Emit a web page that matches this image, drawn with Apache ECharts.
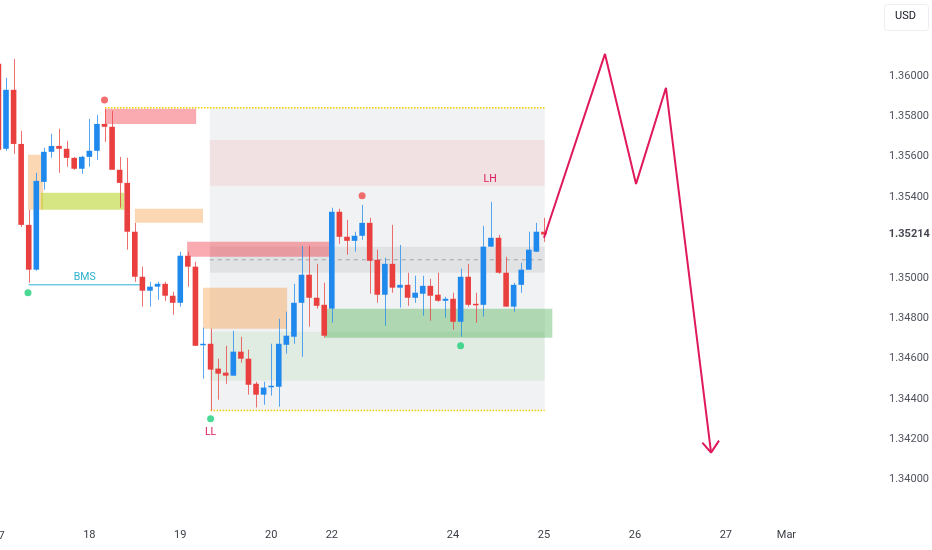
<!DOCTYPE html>
<html>
<head>
<meta charset="utf-8">
<script src="https://cdn.jsdelivr.net/npm/echarts@6/dist/echarts.min.js"></script>
<style>html,body{margin:0;padding:0;background:#fff;}#c{width:932px;height:550px;}</style>
</head>
<body>
<div id="c"></div>
<script>
// ---- data ----
const opens  = [1.36060,1.35639,1.35931,1.35663,1.35262,1.35040,1.35475,1.35624,1.35653,1.35639,1.35594,1.35540,1.35599,1.35629,1.35762,1.35748,1.35535,1.35470,1.35228,1.35005,1.34936,1.34956,1.34970,1.34911,1.34876,1.35109,1.35055,1.34668,1.34673,1.34550,1.34530,1.34515,1.34634,1.34599,1.34475,1.34421,1.34460,1.34460,1.34668,1.34708,1.34876,1.35015,1.34901,1.34866,1.34847,1.35327,1.35203,1.35183,1.35208,1.35272,1.35089,1.34916,1.35069,1.34951,1.34965,1.34901,1.34921,1.34960,1.34916,1.34886,1.34896,1.34782,1.35005,1.34871,1.34866,1.35154,1.35198,1.35025,1.34857,1.34965,1.35040,1.35129,1.35228];
const closes = [1.35634,1.35931,1.35663,1.35262,1.35040,1.35480,1.35624,1.35653,1.35639,1.35594,1.35540,1.35599,1.35629,1.35762,1.35748,1.35535,1.35470,1.35228,1.35005,1.34936,1.34956,1.34970,1.34911,1.34876,1.35109,1.35055,1.34663,1.34673,1.34545,1.34525,1.34515,1.34634,1.34599,1.34470,1.34421,1.34456,1.34465,1.34673,1.34713,1.34876,1.35015,1.34901,1.34861,1.34713,1.35327,1.35203,1.35183,1.35208,1.35272,1.35084,1.34916,1.35069,1.34951,1.34965,1.34901,1.34926,1.34960,1.34911,1.34886,1.34896,1.34782,1.35005,1.34866,1.34866,1.35154,1.35198,1.35025,1.34857,1.34965,1.35040,1.35139,1.35228,1.35214];
const lows   = [1.35614,1.35629,1.35614,1.35252,1.34975,1.35035,1.35436,1.35594,1.35520,1.35550,1.35535,1.35515,1.35550,1.35584,1.35673,1.35535,1.35347,1.35139,1.34980,1.34857,1.34857,1.34891,1.34886,1.34817,1.34857,1.34956,1.34663,1.34500,1.34342,1.34396,1.34475,1.34515,1.34579,1.34421,1.34357,1.34371,1.34416,1.34361,1.34624,1.34673,1.34609,1.34758,1.34847,1.34703,1.34777,1.35168,1.35114,1.35129,1.35188,1.34921,1.34876,1.34762,1.34926,1.34852,1.34861,1.34876,1.34812,1.34787,1.34881,1.34802,1.34743,1.34708,1.34857,1.34777,1.34807,1.35154,1.35020,1.34857,1.34832,1.34926,1.35040,1.35129,1.35178];
const highs  = [1.36089,1.35990,1.36084,1.35728,1.35337,1.35520,1.35644,1.35713,1.35738,1.35678,1.35599,1.35604,1.35787,1.35807,1.35837,1.35827,1.35599,1.35594,1.35272,1.35055,1.34980,1.34980,1.34980,1.34931,1.35129,1.35129,1.35079,1.34753,1.34748,1.34599,1.34663,1.34738,1.34708,1.34644,1.34485,1.34485,1.34673,1.34797,1.34832,1.34970,1.35158,1.35158,1.35069,1.34975,1.35347,1.35342,1.35287,1.35228,1.35361,1.35297,1.35139,1.35099,1.35262,1.35163,1.35025,1.35010,1.35010,1.34995,1.35025,1.34906,1.34926,1.35045,1.35069,1.34926,1.35257,1.35376,1.35213,1.35104,1.34975,1.35074,1.35228,1.35272,1.35297];

const dateTicks  = [0,12,24,36,44,60,72,84,96,104];
const dateLabels = ['17','18','19','20','22','24','25','26','27','Mar'];
const lastPrice = 1.35214;

// zones: [x1, y1, x2, y2] in candle index / price
const greyBox     = [[27.9,1.35842,72.1,1.34342]];
const lightPink   = [[27.9,1.35683,72.1,1.35456]];
const greyBand    = [[27.9,1.35154,72.1,1.35025]];
const lightGreen  = [[27.9,1.34733,72.1,1.34490]];
const strongPink  = [[14.07,1.35837,26.1,1.35762],[24.9,1.35178,43.8,1.35104]];
const orangeZones = [[27.0,1.34951,38.1,1.34748],[3.9,1.35609,5.9,1.35337],[18.0,1.35342,27.0,1.35272]];
const strongGreen = [[43.1,1.34847,73.1,1.34703]];
const limeZone    = [[5.6,1.35421,16.6,1.35337]];

// lines
const topDotted    = [[14.07,1.35842],[72.1,1.35842]];
const bottomDotted = [[28,1.34342],[72.1,1.34342]];
const midDashed    = [[27.9,1.35089],[72.1,1.35089]];
const bmsLine      = [[4.0,1.34965],[18.7,1.34965]];
const projection   = [[72.0,1.35198],[80.05,1.36109],[84.15,1.35465],[88.1,1.35941],[94.05,1.34134]];
const arrowHead    = [[92.9,1.34183],[94.05,1.34134],[95.1,1.34193]];

// markers
const redDots   = [[14,1.35881],[48,1.35406]];
const greenDots = [[3.9,1.34926],[28,1.34302],[61,1.34663]];
const texts     = [['BMS',11.4,1.35000],['LL',28,1.34233],['LH',64.9,1.35485]];

// ---- chart ----
const UP = '#2089ee', DOWN = '#ea3f3f';
const candleData = opens.map((o,i)=>[i,o,closes[i],lows[i],highs[i]]);

function zoneSeries(rects, color){
  return {
    type:'custom', z:1, silent:true, clip:true,
    data: rects,
    renderItem:(p,api)=>{
      const a = api.coord([api.value(0),api.value(1)]);
      const b = api.coord([api.value(2),api.value(3)]);
      return {type:'rect', shape:{x:Math.min(a[0],b[0]),y:Math.min(a[1],b[1]),width:Math.abs(b[0]-a[0]),height:Math.abs(b[1]-a[1])}, style:{fill:color}};
    }
  };
}
function lineSeries(data, color, width, type, z){
  return {type:'line', data, symbol:'none', silent:true, z:z||2, lineStyle:{color, width, type:type||'solid'}, animation:false};
}

const chart = echarts.init(document.getElementById('c'), null, {renderer:'canvas'});
chart.setOption({
  animation:false,
  backgroundColor:'#ffffff',
  grid:{left:0, top:0, width:871, height:520},
  xAxis:{
    type:'value', min:0.208, max:115.16,
    axisLine:{show:false}, axisTick:{show:false}, splitLine:{show:false},
    axisLabel:{margin:10, color:'#3a3d45', fontSize:11, fontFamily:'Roboto',
      customValues: dateTicks, showMinLabel:true, showMaxLabel:true,
      formatter:v=>{const k=dateTicks.indexOf(Math.round(v)); return k>=0?dateLabels[k]:'';}}
  },
  yAxis:{
    type:'value', position:'right', min:1.338, max:1.36376, interval:0.002,
    axisLine:{show:false}, axisTick:{show:false}, splitLine:{show:false},
    axisLabel:{margin:18, color:'#50535e', fontSize:11, fontFamily:'Roboto',
      formatter:v=>{
        if (Math.abs(v-1.338)<1e-7 || Math.abs(v-1.352)<1e-7 || v>1.3615) return '';
        return v.toFixed(5);
      }}
  },
  graphic:[
    {type:'rect', left:884, top:4, shape:{width:44,height:26,r:3}, style:{fill:'#fff',stroke:'#eceef2',lineWidth:1}},
    {type:'text', left:895, top:11, style:{text:'USD', fill:'#131722', fontSize:11, fontFamily:'Roboto'}}
  ],
  series:[
    zoneSeries(greyBox,'rgba(120,123,134,0.10)'),
    zoneSeries(lightPink,'rgba(242,54,69,0.09)'),
    zoneSeries(greyBand,'rgba(120,123,134,0.13)'),
    zoneSeries(lightGreen,'rgba(76,175,80,0.10)'),
    zoneSeries(strongPink,'rgba(242,54,69,0.42)'),
    zoneSeries(orangeZones,'rgba(245,140,40,0.35)'),
    zoneSeries(strongGreen,'rgba(76,175,80,0.40)'),
    zoneSeries(limeZone,'rgba(180,210,30,0.55)'),
    lineSeries(topDotted,'#f0d000',1.5,'dotted'),
    lineSeries(bottomDotted,'#f0d000',1.5,'dotted'),
    lineSeries(midDashed,'#a3a6af',1,[4,4]),
    lineSeries(bmsLine,'#2ab0cc',1,'solid'),
    {
      type:'custom', z:3, clip:true, data:candleData,
      renderItem:(p,api)=>{
        const i=api.value(0), o=api.value(1), c=api.value(2), l=api.value(3), h=api.value(4);
        const po=api.coord([i,o]), pc=api.coord([i,c]), pl=api.coord([i,l]), ph=api.coord([i,h]);
        const w=api.size([1,0])[0]*0.74;
        const col = c>=o?UP:DOWN;
        const top=Math.min(po[1],pc[1]);
        const hh=Math.max(Math.abs(po[1]-pc[1]),1.5);
        return {type:'group', children:[
          {type:'line', shape:{x1:Math.round(pl[0])+0.5,y1:pl[1],x2:Math.round(ph[0])+0.5,y2:ph[1]}, style:{stroke:col,lineWidth:1,opacity:0.75}},
          {type:'rect', shape:{x:po[0]-w/2,y:top,width:w,height:hh}, style:{fill:col}}
        ]};
      }
    },
    lineSeries(projection,'#e0195a',2,'solid',4),
    lineSeries(arrowHead,'#e0195a',2,'solid',4),
    {type:'scatter', z:5, data:redDots, symbolSize:7, itemStyle:{color:'#f04b4b'}, silent:true},
    {type:'scatter', z:5, data:greenDots, symbolSize:7, itemStyle:{color:'#1fcf7a'}, silent:true},
    {
      type:'custom', z:5, data:texts.map(t=>[t[1],t[2],t[0]]),
      renderItem:(p,api)=>{
        const pt=api.coord([api.value(0),api.value(1)]);
        const name=texts[p.dataIndex][0];
        const col = name==='BMS' ? '#2ab0cc' : '#d81b60';
        return {type:'text', x:pt[0], y:pt[1], style:{text:name, fill:col, fontSize:10.5, fontFamily:'Roboto', align:'center', verticalAlign:'middle'}};
      }
    },
    {
      type:'scatter', z:5, data:[[115,lastPrice]], symbolSize:0, silent:true,
      label:{show:true, position:'right', distance:19, formatter:()=>lastPrice.toFixed(5), color:'#131722', fontWeight:'bold', fontSize:11, fontFamily:'Roboto'}
    }
  ]
});
// first date label sits left of the axis minimum (partly cut off at the edge), place it from the axis scale
const firstX = chart.convertToPixel({xAxisIndex:0}, dateTicks[0]);
chart.setOption({graphic:[
  {type:'rect', left:884, top:4, shape:{width:44,height:26,r:3}, style:{fill:'#fff',stroke:'#eceef2',lineWidth:1}},
  {type:'text', left:895, top:11, style:{text:'USD', fill:'#131722', fontSize:11, fontFamily:'Roboto'}},
  {type:'text', x:firstX, y:536, style:{text:dateLabels[0], fill:'#3a3d45', fontSize:11, fontFamily:'Roboto', align:'center', verticalAlign:'middle'}}
]});
</script>
</body>
</html>
